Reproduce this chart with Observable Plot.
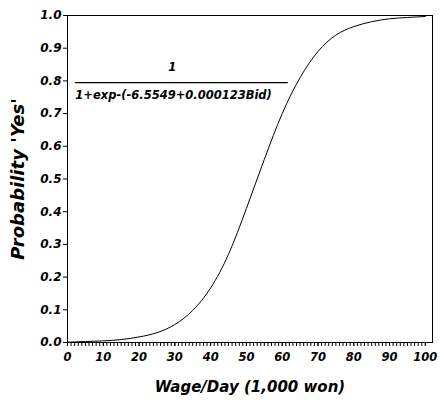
<!DOCTYPE html>
<html>
<head>
<meta charset="utf-8">
<script src="https://cdn.jsdelivr.net/npm/d3@7"></script>
<script src="https://cdn.jsdelivr.net/npm/@observablehq/plot@0.6"></script>
<style>
  html, body { margin: 0; padding: 0; background: #fff; }
  #chart svg { display: block; }
</style>
</head>
<body>
<div id="chart"></div>
<script>
// Wage/Day (1,000 won) and probability of answering "Yes"
const wage = [0, 5, 10, 15, 20, 25, 30, 35, 40, 45, 50, 55, 60, 65, 70, 75, 80, 85, 90, 95, 100];
const prob = [0.001, 0.003, 0.005, 0.009, 0.017, 0.030, 0.055, 0.098, 0.167, 0.27, 0.41, 0.56, 0.70, 0.81, 0.89, 0.94, 0.966, 0.981, 0.990, 0.994, 0.997];

const yTicks = [0, 0.1, 0.2, 0.3, 0.4, 0.5, 0.6, 0.7, 0.8, 0.9, 1.0];
const xTicks = [0, 10, 20, 30, 40, 50, 60, 70, 80, 90, 100];
const xMinorTicks = d3.range(0, 101, 1);

const xTitle = "Wage/Day (1,000 won)";
const yTitle = "Probability 'Yes'";

// fraction annotation (data coordinates)
const numerator = [{x: 29.3, y: 0.842, text: "1"}];
const fractionBar = [{x1: 2.2, x2: 61.7, y: 0.795}];
const denominator = [{x: 2.2, y: 0.755, text: "1+exp-(-6.5549+0.000123Bid)"}];

const curveData = wage.map((w, i) => ({wage: w, p: prob[i]}));

const chart = Plot.plot({
  width: 440,
  height: 403,
  marginLeft: 67,
  marginRight: 8,
  marginTop: 15,
  marginBottom: 61,
  style: {
    fontFamily: "DejaVu Sans, sans-serif",
    fontWeight: "bold",
    fontStyle: "italic",
    color: "black",
    background: "white"
  },
  x: {domain: [0, 102]},
  y: {domain: [0, 1]},
  marks: [
    Plot.frame({stroke: "black", strokeWidth: 1}),
    Plot.axisY({ticks: yTicks, tickFormat: d3.format(".1f"), tickSize: 4, tickPadding: 2, fontSize: 12, label: null}),
    Plot.axisX({ticks: xMinorTicks, tickSize: 4, tickFormat: () => "", label: null}),
    Plot.axisX({ticks: xTicks, tickSize: 4, tickPadding: 6, fontSize: 11.5, label: null}),
    Plot.line(curveData, {x: "wage", y: "p", curve: "natural", stroke: "black", strokeWidth: 1}),
    Plot.text(numerator, {x: "x", y: "y", text: "text", fontSize: 11.5, fill: "black"}),
    Plot.ruleY(fractionBar, {x1: "x1", x2: "x2", y: "y", stroke: "black", strokeWidth: 1.2}),
    Plot.text(denominator, {x: "x", y: "y", text: "text", textAnchor: "start", fontSize: 11.5, fill: "black"}),
    Plot.text([xTitle], {frameAnchor: "bottom", textAnchor: "middle", dy: 49, fontSize: 15, fill: "black"}),
    Plot.text([yTitle], {frameAnchor: "left", textAnchor: "middle", dx: -49, rotate: -90, fontSize: 18, fill: "black"})
  ]
});
document.getElementById("chart").appendChild(chart);
</script>
</body>
</html>
